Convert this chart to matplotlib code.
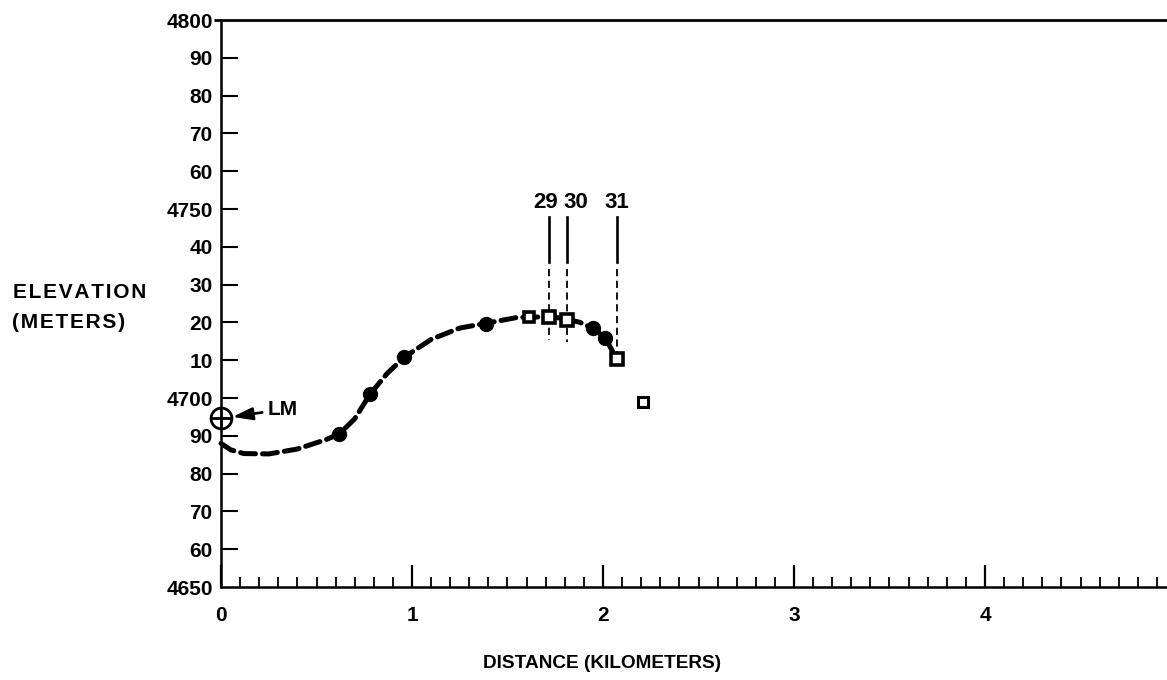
import matplotlib
matplotlib.use("Agg")
import matplotlib.pyplot as plt
from matplotlib.ticker import MultipleLocator, FixedLocator

# ---- data ----
curve_km = [0.0, 0.05, 0.12, 0.25, 0.40, 0.55, 0.62, 0.70, 0.78, 0.87, 0.96,
            1.10, 1.25, 1.39, 1.55, 1.72, 1.80, 1.88, 1.95, 2.01, 2.07]
curve_elev = [4688.0, 4686.3, 4685.3, 4685.2, 4686.5, 4689.0, 4690.5, 4694.5,
              4701.0, 4706.5, 4710.8, 4715.5, 4718.5, 4719.8, 4721.3, 4721.5,
              4721.0, 4720.0, 4718.3, 4716.0, 4710.6]
dot_km = [0.62, 0.78, 0.96, 1.39, 1.95, 2.01]
dot_elev = [4690.5, 4701.0, 4710.8, 4719.6, 4718.5, 4715.9]
station_names = ["29", "30", "31"]
station_km = [1.717, 1.812, 2.073]
station_elev = [4721.4, 4720.7, 4710.4]
extra_km = [1.61]
extra_elev = [4721.4]
offset_km = [2.21]
offset_elev = [4698.9]
lm_km = 0.0
lm_elev = 4694.7
ytick_vals = list(range(4650, 4801, 10))
ytick_labels = ["4650", "60", "70", "80", "90", "4700", "10", "20", "30", "40",
                "4750", "60", "70", "80", "90", "4800"]
xtick_vals = [0, 1, 2, 3, 4]

plt.rcParams['font.family'] = ['Liberation Sans', 'DejaVu Sans']
plt.rcParams['font.weight'] = 'bold'

fig = plt.figure(figsize=(11.67, 6.80), dpi=100)
ax = fig.add_axes([221 / 1167, 93 / 680, 1 - 221 / 1167, (587 - 20) / 680])
ax.set_xlim(0, (1167 - 221) / 191.0)
ax.set_ylim(4650, 4800)

ax.spines["right"].set_visible(False)
for s in ["left", "bottom"]:
    ax.spines[s].set_linewidth(1.8)
ax.spines["top"].set_linewidth(2.0)

ax.yaxis.set_major_locator(FixedLocator(ytick_vals))
ax.set_yticklabels(ytick_labels, fontsize=15, fontweight='bold')
ax.tick_params(axis='y', direction='in', length=12, width=1.5, pad=6)
ax.xaxis.set_major_locator(FixedLocator(xtick_vals))
ax.set_xticklabels([str(v) for v in xtick_vals], fontsize=15, fontweight='bold')
ax.xaxis.set_minor_locator(MultipleLocator(0.1))
ax.tick_params(axis='x', which='major', direction='in', length=16, width=1.6, pad=14)
ax.tick_params(axis='x', which='minor', direction='in', length=7, width=1.3)
# 4650 has no tick mark; 4800 tick points outward (joins the top line)
yt = ax.yaxis.get_major_ticks()
yt[0].tick1line.set_visible(False)
yt[-1].tick1line.set_visible(False)
ax.plot([-0.035, 0], [4800, 4800], color='black', lw=2.0, clip_on=False,
        solid_capstyle='butt')

# dashed profile curve
ax.plot(curve_km, curve_elev, color='black', lw=3.6, ls=(0, (3.0, 1.4)),
        dash_capstyle='round', clip_on=False, zorder=3)
# filled stations
ax.plot(dot_km, dot_elev, 'o', color='black', ms=10, zorder=4)
# open square stations
ax.plot(station_km, station_elev, 's', mfc='white', mec='black', mew=2.6,
        ms=9, zorder=5)
ax.plot(extra_km, extra_elev, 's', mfc='white', mec='black', mew=2.6,
        ms=7, zorder=5)
ax.plot(offset_km, offset_elev, 's', mfc='none', mec='black', mew=2.2,
        ms=7, ls='none', zorder=5)

# station reference lines and labels
label_dx = [-0.02, 0.045, 0.0]
for name, xk, ye, dx in zip(station_names, station_km, station_elev, label_dx):
    ax.plot([xk, xk], [4747.8, 4735.9], color='black', lw=1.9, zorder=2)
    ax.plot([xk, xk], [4734.0, ye - 6 if name != "31" else ye],
            color='black', lw=1.3, ls=(0, (4, 2.5)), zorder=2)
    ax.text(xk + dx, 4751.8, name, ha='center', va='center', fontsize=16,
            fontweight='bold')

# LM marker
ax.plot([lm_km], [lm_elev], 'o', mfc='white', mec='black', mew=2.0, ms=15,
        clip_on=False, zorder=6)
ax.plot([lm_km], [lm_elev], '+', color='black', mew=2.0, ms=15,
        clip_on=False, zorder=7)
ax.annotate("LM", xy=(lm_km + 0.06, lm_elev + 0.3), xytext=(0.245, 4697.0),
            fontsize=15, fontweight='bold', va='center', ha='left',
            arrowprops=dict(arrowstyle='-|>,head_length=0.8,head_width=0.25',
                            color='black', lw=1.9, shrinkA=2, shrinkB=0))

hs = "\u200a"
fig.text(13 / 1167, 1 - 292 / 680, hs.join("ELEVATION"), fontsize=15,
         fontweight='bold', ha='left', va='center')
fig.text(12 / 1167, 1 - 322 / 680, hs.join("(METERS)"), fontsize=15,
         fontweight='bold', ha='left', va='center')
fig.text(602 / 1167, 1 - 663 / 680, "DISTANCE (KILOMETERS)", fontsize=13.7,
         fontweight='bold', ha='center', va='center')

fig.savefig("out.png", dpi=100)
